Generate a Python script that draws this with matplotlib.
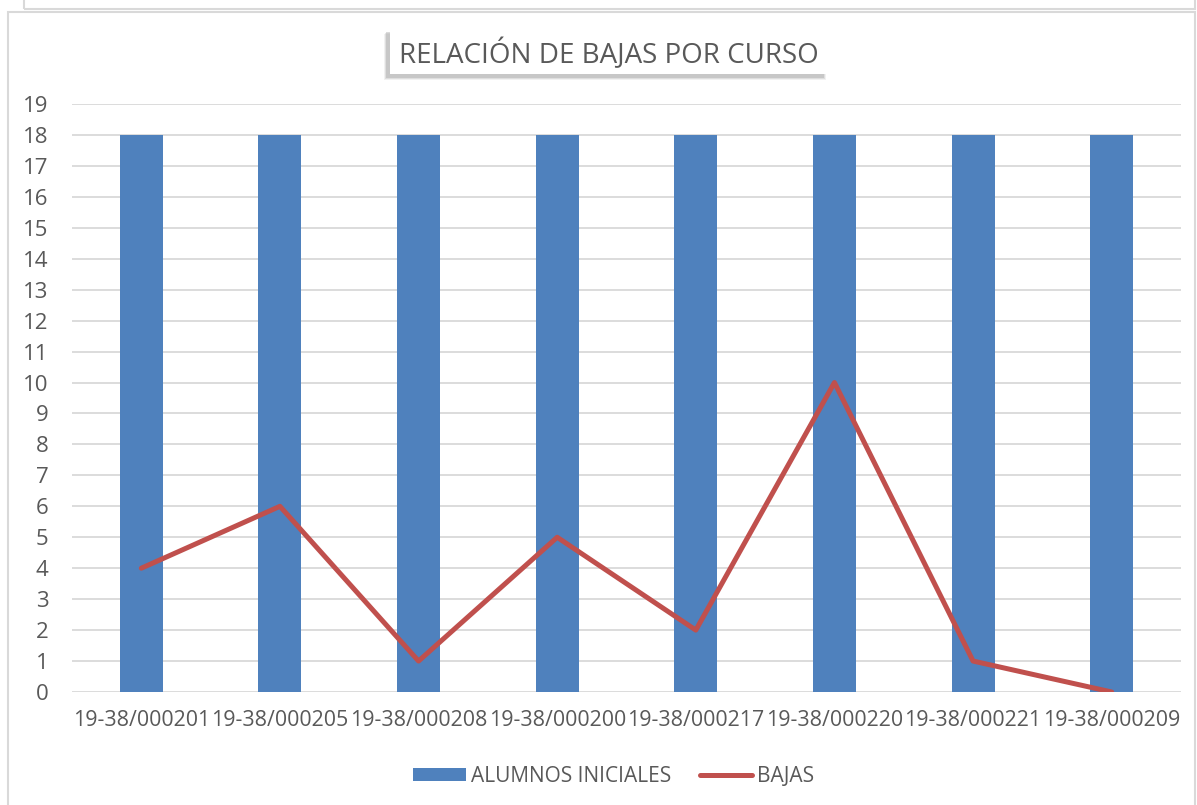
import matplotlib
matplotlib.use('Agg')
from matplotlib import pyplot as plt
from matplotlib.patches import Rectangle
import numpy as np

#--- data

cursos = ['19-38/000201', '19-38/000205', '19-38/000208', '19-38/000200',
          '19-38/000217', '19-38/000220', '19-38/000221', '19-38/000209']
alumnos_iniciales = [18, 18, 18, 18, 18, 18, 18, 18]
bajas = [4, 6, 1, 5, 2, 10, 1, 0]

#--- plot

plt.rcParams['font.family'] = ['Open Sans', 'DejaVu Sans']
W, H = 1197, 805
fig = plt.figure(figsize=(W / 100, H / 100), dpi=100)
txt = '#595959'
grid = '#D9D9D9'

def px(x0, y0, x1, y1):
    # pixel box (top-left origin) -> figure fraction rect
    return (x0 / W, 1 - y1 / H), (x1 - x0) / W, (y1 - y0) / H

# chart borders
xy, w, h = px(8, 12, 1195, 812)
fig.patches.append(Rectangle(xy, w, h, transform=fig.transFigure, fill=False,
                             ec=grid, lw=1.5))
xy, w, h = px(24, -10, 1195, 9)
fig.patches.append(Rectangle(xy, w, h, transform=fig.transFigure, fill=False,
                             ec=grid, lw=1.5))

ax = fig.add_axes([72 / W, 1 - 692 / H, (1181 - 72) / W, (692 - 104) / H])
x = np.arange(len(cursos))
b = ax.bar(x, alumnos_iniciales, width=0.31, color='#4F81BD', zorder=2,
           label='ALUMNOS INICIALES')
l, = ax.plot(x, bajas, color='#C0504D', lw=3.6, zorder=3, label='BAJAS',
             solid_capstyle='round')

ax.set_xlim(-0.5, len(cursos) - 0.5)
ax.set_ylim(0, 19)
ax.set_yticks(range(0, 20))
ax.set_xticks(x)
ax.set_xticklabels(cursos)
ax.grid(axis='y', color=grid, lw=1.3, zorder=0)
for s in ax.spines.values():
    s.set_visible(False)
ax.tick_params(axis='both', length=0, colors=txt)
ax.tick_params(axis='y', pad=17, labelsize=16)
ax.tick_params(axis='x', pad=13, labelsize=15.4)

# title box with shadow
for i, a in enumerate([0.15, 0.25, 0.4]):
    xy, w, h = px(386 - 2 + i, 34 - i, 826 - i, 80 - i)
    fig.patches.append(Rectangle(xy, w, h, transform=fig.transFigure,
                                 color='#A6A6A6', alpha=a, lw=0))
xy, w, h = px(390, 30, 826, 74)
fig.patches.append(Rectangle(xy, w, h, transform=fig.transFigure,
                             color='white', lw=0))
fig.text(609 / W, 1 - 54 / H, 'RELACIÓN DE BAJAS POR CURSO', fontsize=20,
         color=txt, ha='center', va='center')

fig.legend([b, l], ['ALUMNOS INICIALES', 'BAJAS'], loc='center',
           bbox_to_anchor=(614 / W, 1 - 776 / H), ncol=2,
           frameon=False, fontsize=15, labelcolor=txt, handlelength=2.5,
           handleheight=0.6, columnspacing=1.4, handletextpad=0.25)

fig.savefig('out.png', dpi=100, facecolor='white')
